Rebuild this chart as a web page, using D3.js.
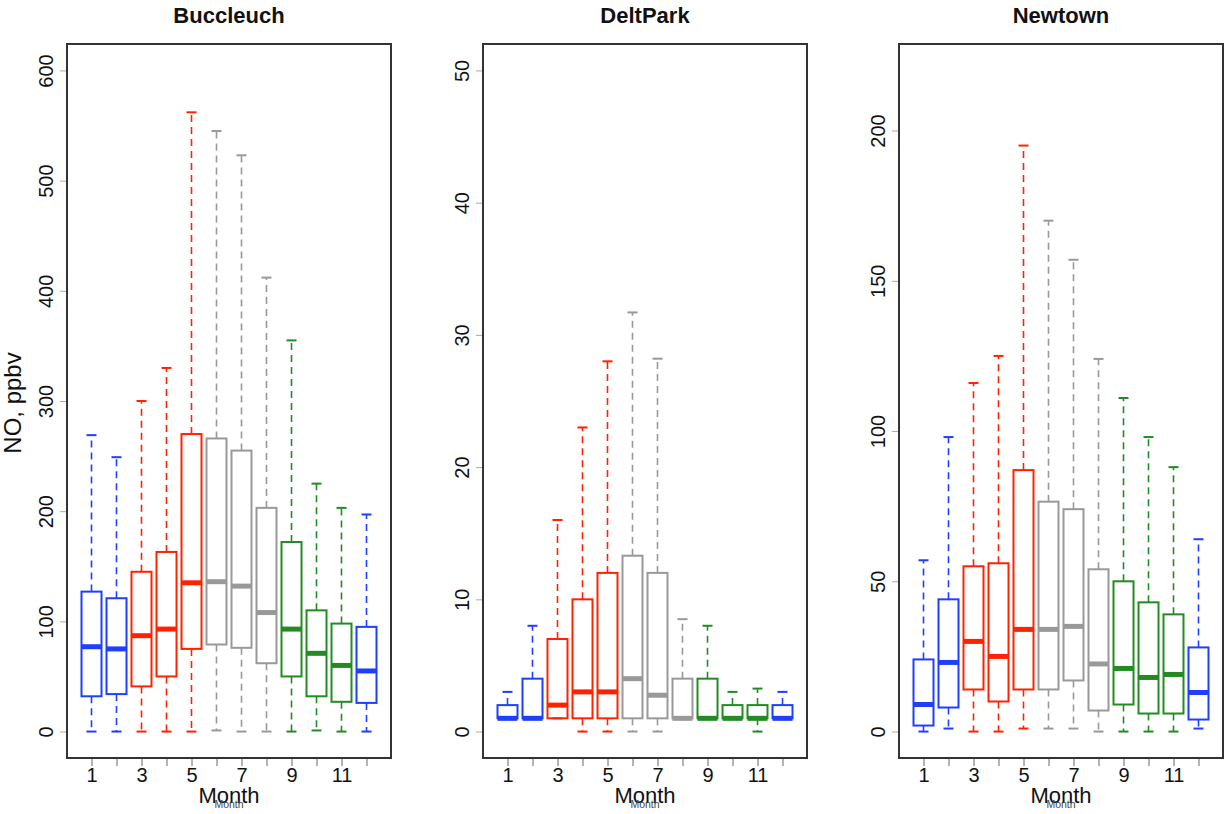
<!DOCTYPE html>
<html>
<head>
<meta charset="utf-8">
<script src="https://cdn.jsdelivr.net/npm/d3@7"></script>
<style>
  html, body { margin: 0; padding: 0; background: #fff; }
  svg { display: block; font-family: "Liberation Sans", Arial, Helvetica, sans-serif; }
</style>
</head>
<body>
<svg id="chart" width="1225" height="814"></svg>
<script>
// ---------------- DATA ----------------
const months = [1, 2, 3, 4, 5, 6, 7, 8, 9, 10, 11, 12];
const xTickLabels = ["1", "", "3", "", "5", "", "7", "", "9", "", "11", ""];
const monthColors = ["#1F3FFF", "#1F3FFF", "#FF2200", "#FF2200", "#FF2200",
                     "#999999", "#999999", "#999999",
                     "#228B22", "#228B22", "#228B22", "#1F3FFF"];

const siteNames = ["Buccleuch", "DeltPark", "Newtown"];

// Buccleuch
const buccleuchLow  = [0, 0, 0, 0, 0, 1, 0, 0, 0, 1, 0, 0];
const buccleuchQ1   = [32, 34, 41, 50, 75, 79, 76, 62, 50, 32, 27, 26];
const buccleuchMed  = [77, 75, 87, 93, 135, 136, 132, 108, 93, 71, 60, 55];
const buccleuchQ3   = [127, 121, 145, 163, 270, 266, 255, 203, 172, 110, 98, 95];
const buccleuchHigh = [269, 249, 300, 330, 562, 545, 523, 412, 355, 225, 203, 197];
const buccleuchTicks = [0, 100, 200, 300, 400, 500, 600];
const buccleuchYMax = 600;

// DeltPark
const deltparkLow  = [1, 1, 1, 0, 0, 0, 0, 1, 1, 1, 0, 1];
const deltparkQ1   = [1, 1, 1, 1, 1, 1, 1, 1, 1, 1, 1, 1];
const deltparkMed  = [1, 1, 2, 3, 3, 4, 2.75, 1, 1, 1, 1, 1];
const deltparkQ3   = [2, 4, 7, 10, 12, 13.3, 12, 4, 4, 2, 2, 2];
const deltparkHigh = [3, 8, 16, 23, 28, 31.7, 28.2, 8.5, 8, 3, 3.25, 3];
const deltparkTicks = [0, 10, 20, 30, 40, 50];
const deltparkYMax = 50;

// Newtown
const newtownLow  = [0, 1, 0, 0, 1, 1, 1, 0, 0, 0, 0, 1];
const newtownQ1   = [2, 8, 14, 10, 14, 14, 17, 7, 9, 6, 6, 4];
const newtownMed  = [9, 23, 30, 25, 34, 34, 35, 22.5, 21, 18, 19, 13];
const newtownQ3   = [24, 44, 55, 56, 87, 76.5, 74, 54, 50, 43, 39, 28];
const newtownHigh = [57, 98, 116, 125, 195, 170, 157, 124, 111, 98, 88, 64];
const newtownTicks = [0, 50, 100, 150, 200];
const newtownYMax = 220;

// build site tables from the arrays
function buildSite(low, q1, med, q3, high) {
  return months.map((m, i) => ({ month: m, low: low[i], q1: q1[i], med: med[i], q3: q3[i], high: high[i] }));
}
const sites = [
  { name: siteNames[0], rows: buildSite(buccleuchLow, buccleuchQ1, buccleuchMed, buccleuchQ3, buccleuchHigh), ticks: buccleuchTicks, ymax: buccleuchYMax },
  { name: siteNames[1], rows: buildSite(deltparkLow, deltparkQ1, deltparkMed, deltparkQ3, deltparkHigh), ticks: deltparkTicks, ymax: deltparkYMax },
  { name: siteNames[2], rows: buildSite(newtownLow, newtownQ1, newtownMed, newtownQ3, newtownHigh), ticks: newtownTicks, ymax: newtownYMax }
];

// ---------------- LAYOUT ----------------
const svg = d3.select("#chart");
const panelLefts = [67, 483, 899];
const panelW = 324;
const plotTop = 44, plotBottom = 758;
const boxW = 0.8;      // in month units
const stapleW = 0.4;   // in month units

sites.forEach((site, si) => {
  const left = panelLefts[si];
  const right = left + panelW;
  const xs = d3.scaleLinear().domain([0.5 - 0.48, 12.5 + 0.48]).range([left, right]);
  const ys = d3.scaleLinear().domain([-0.04 * site.ymax, 1.04 * site.ymax]).range([plotBottom, plotTop]);

  const g = svg.append("g");

  // Title
  g.append("text")
    .attr("x", (left + right) / 2).attr("y", 23)
    .attr("text-anchor", "middle")
    .attr("font-size", 22).attr("font-weight", "bold")
    .attr("fill", "#111")
    .text(site.name);

  // Y axis (ticks + rotated labels)
  const yAxis = d3.axisLeft(ys).tickValues(site.ticks).tickSize(7).tickFormat(d3.format("d"));
  const yg = g.append("g").attr("transform", `translate(${left},0)`).call(yAxis);
  yg.select(".domain").remove();
  yg.selectAll(".tick line").attr("stroke", "#aaa").attr("stroke-width", 1);
  yg.selectAll(".tick text")
    .attr("font-size", 20).attr("font-family", "Liberation Sans, Arial, sans-serif")
    .attr("fill", "#111")
    .attr("text-anchor", "middle")
    .attr("dy", null)
    .attr("x", null)
    .attr("transform", "translate(-14,0) rotate(-90)")
    .attr("dominant-baseline", "auto");

  // X axis
  const xAxis = d3.axisBottom(xs).tickValues(months).tickSize(8).tickFormat((d, i) => xTickLabels[i]);
  const xg = g.append("g").attr("transform", `translate(0,${plotBottom})`).call(xAxis);
  xg.select(".domain").remove();
  xg.selectAll(".tick line").attr("stroke", "#666").attr("stroke-width", 1);
  xg.selectAll(".tick text")
    .attr("font-size", 20).attr("font-family", "Liberation Sans, Arial, sans-serif")
    .attr("fill", "#111").attr("y", 10).attr("dy", "0.71em");

  // X label (big) and small overlapping label
  g.append("text")
    .attr("x", (left + right) / 2).attr("y", 803)
    .attr("text-anchor", "middle").attr("font-size", 22).attr("fill", "#111")
    .text("Month");
  g.append("text")
    .attr("x", (left + right) / 2).attr("y", 808)
    .attr("text-anchor", "middle").attr("font-size", 10.5).attr("fill", "#444")
    .text("Month");

  // Boxes
  const bx = g.append("g");
  site.rows.forEach((r, i) => {
    const col = monthColors[i];
    const cx = xs(r.month);
    const x0 = xs(r.month - boxW / 2), x1 = xs(r.month + boxW / 2);
    const s0 = xs(r.month - stapleW / 2), s1 = xs(r.month + stapleW / 2);
    // whiskers (dashed)
    if (r.high > r.q3) {
      bx.append("line").attr("x1", cx).attr("x2", cx).attr("y1", ys(r.q3)).attr("y2", ys(r.high))
        .attr("stroke", col).attr("stroke-width", 1.6).attr("stroke-dasharray", "7,5");
    }
    if (r.low < r.q1) {
      bx.append("line").attr("x1", cx).attr("x2", cx).attr("y1", ys(r.q1)).attr("y2", ys(r.low))
        .attr("stroke", col).attr("stroke-width", 1.6).attr("stroke-dasharray", "7,5");
    }
    // staples
    bx.append("line").attr("x1", s0).attr("x2", s1).attr("y1", ys(r.high)).attr("y2", ys(r.high))
      .attr("stroke", col).attr("stroke-width", 2);
    bx.append("line").attr("x1", s0).attr("x2", s1).attr("y1", ys(r.low)).attr("y2", ys(r.low))
      .attr("stroke", col).attr("stroke-width", 2);
    // box
    bx.append("rect").attr("x", x0).attr("y", ys(r.q3)).attr("width", x1 - x0)
      .attr("height", Math.max(0, ys(r.q1) - ys(r.q3)))
      .attr("fill", "none").attr("stroke", col).attr("stroke-width", 2);
    // median
    bx.append("line").attr("x1", x0).attr("x2", x1).attr("y1", ys(r.med)).attr("y2", ys(r.med))
      .attr("stroke", col).attr("stroke-width", 5);
  });

  // Plot frame
  g.append("rect").attr("x", left).attr("y", plotTop).attr("width", panelW).attr("height", plotBottom - plotTop)
    .attr("fill", "none").attr("stroke", "#333").attr("stroke-width", 2);
});

// Y axis title (first panel only)
svg.append("text")
  .attr("transform", `translate(21,${(plotTop + plotBottom) / 2 + 2}) rotate(-90)`)
  .attr("text-anchor", "middle").attr("font-size", 24).attr("fill", "#111")
  .text("NO, ppbv");
</script>
</body>
</html>
